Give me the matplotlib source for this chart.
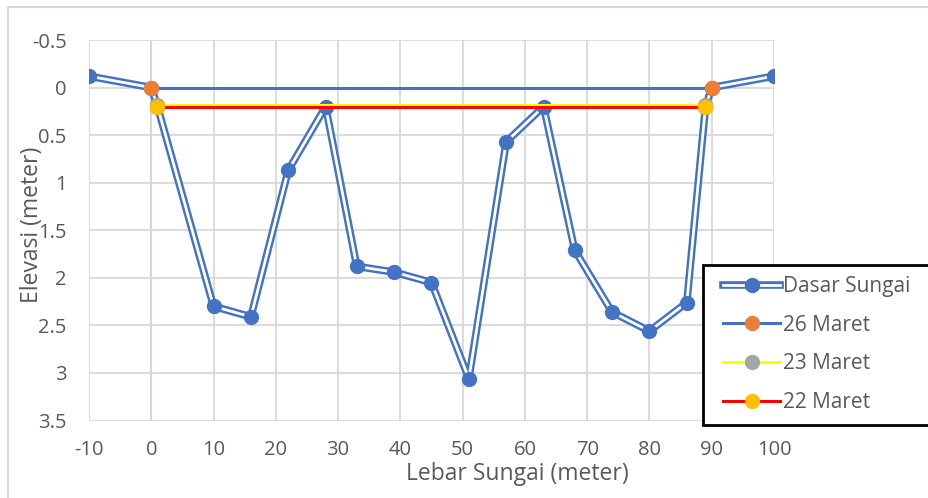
import matplotlib
matplotlib.use("Agg")
import matplotlib.pyplot as plt
from matplotlib.lines import Line2D
from matplotlib.patches import Rectangle
from matplotlib.legend_handler import HandlerTuple

plt.rcParams['font.family'] = ['Open Sans', 'DejaVu Sans']
plt.rcParams['axes.unicode_minus'] = False

# Data
dasar_x = [-10, 0, 1, 10, 16, 22, 28, 33, 39, 45, 51, 57, 63, 68, 74, 80, 86, 89, 90, 100]
dasar_y = [-0.12, 0, 0.2, 2.3, 2.41, 0.87, 0.2, 1.88, 1.94, 2.05, 3.06, 0.57, 0.2, 1.71, 2.36, 2.56, 2.26, 0.2, 0, -0.12]
m26_x = [0, 90]
m26_y = [0, 0]
m23_x = [1, 89]
m23_y = [0.18, 0.18]
m22_x = [1, 89]
m22_y = [0.2, 0.2]

x_ticks = [-10, 0, 10, 20, 30, 40, 50, 60, 70, 80, 90, 100]
y_ticks = [-0.5, 0, 0.5, 1, 1.5, 2, 2.5, 3, 3.5]
y_ticklabels = ["-0.5", "0", "0.5", "1", "1.5", "2", "2.5", "3", "3.5"]

BLUE = "#4472C4"
ORANGE = "#ED7D31"
GRAY = "#A5A5A5"
GOLD = "#FFC000"
TXT = "#595959"

W, H = 929, 498
fig = plt.figure(figsize=(W / 100, H / 100), dpi=100)
fig.patch.set_facecolor("white")
# chart area border
fig.patches.append(Rectangle((8 / W, -0.1), 1.2, 1 - 7 / H + 0.1, transform=fig.transFigure,
                             fill=False, edgecolor="#d9d9d9", lw=1.5, zorder=0))

left, right, top, bottom = 89 / W, 774 / W, 40 / H, 420.5 / H
ax = fig.add_axes([left, 1 - bottom, right - left, bottom - top])

ax.set_xlim(-10, 100)
ax.set_ylim(3.5, -0.5)
ax.set_xticks(x_ticks)
ax.set_yticks(y_ticks)
ax.set_yticklabels(y_ticklabels)
ax.tick_params(length=0, labelsize=14.5, colors=TXT)
ax.tick_params(axis='y', pad=16)
ax.tick_params(axis='x', pad=14)
for t in ax.get_yticklabels() + ax.get_xticklabels():
    t.set_color(TXT)

ax.grid(True, color="#d9d9d9", lw=1.3, zorder=0)
ax.set_axisbelow(True)
for s in ax.spines.values():
    s.set_visible(False)
ax.axvline(0, color="#bfbfbf", lw=1.5, zorder=0.5)

# Dasar Sungai double line
ax.plot(dasar_x, dasar_y, color=BLUE, lw=5.5, zorder=2, solid_joinstyle='round')
ax.plot(dasar_x, dasar_y, color="white", lw=2, zorder=2.1, solid_joinstyle='round')
ax.plot(dasar_x, dasar_y, ls='none', marker='o', ms=10, color=BLUE, zorder=2.2)

ax.plot(m26_x, m26_y, color=BLUE, lw=2.2, marker='o', ms=10, mfc=ORANGE, mec=ORANGE, zorder=3)
ax.plot(m23_x, m23_y, color="#FFFF00", lw=2.2, marker='o', ms=10, mfc=GRAY, mec=GRAY, zorder=3.1)
ax.plot(m22_x, m22_y, color="#FF0000", lw=2.2, marker='o', ms=10, mfc=GOLD, mec=GOLD, zorder=3.2)

fig.text(517 / W, 1 - 474 / H, "Lebar Sungai (meter)", fontsize=16.5, color=TXT,
         ha='center', va='center')
fig.text(32 / W, 1 - 225 / H, "Elevasi (meter)", fontsize=16.5, color=TXT,
         ha='center', va='center', rotation=90)

# Legend
fig.patches.append(Rectangle((703 / W, 1 - 425 / H), 0.5, 160 / H, transform=fig.transFigure,
                             facecolor="white", edgecolor="black", lw=2, zorder=4))
h_dasar = (Line2D([], [], color=BLUE, lw=5.5), Line2D([], [], color="white", lw=2),
           Line2D([], [], ls='none', marker='o', ms=10, color=BLUE))
h26 = Line2D([], [], color=BLUE, lw=2.2, marker='o', ms=10, mfc=ORANGE, mec=ORANGE)
h23 = Line2D([], [], color="#FFFF00", lw=2.2, marker='o', ms=10, mfc=GRAY, mec=GRAY)
h22 = Line2D([], [], color="#FF0000", lw=2.2, marker='o', ms=10, mfc=GOLD, mec=GOLD)
leg = fig.legend([h_dasar, h26, h23, h22], ["Dasar Sungai", "26 Maret", "23 Maret", "22 Maret"],
                 handler_map={tuple: HandlerTuple(ndivide=1, pad=0)},
                 loc='upper left', bbox_to_anchor=(723 / W, 1 - 276 / H),
                 fontsize=15, frameon=False, handlelength=2.75,
                 handletextpad=0.15, labelspacing=0.85, borderpad=0, borderaxespad=0)
leg.set_zorder(5)
for t in leg.get_texts():
    t.set_color(TXT)

fig.savefig("out.png", dpi=100)
